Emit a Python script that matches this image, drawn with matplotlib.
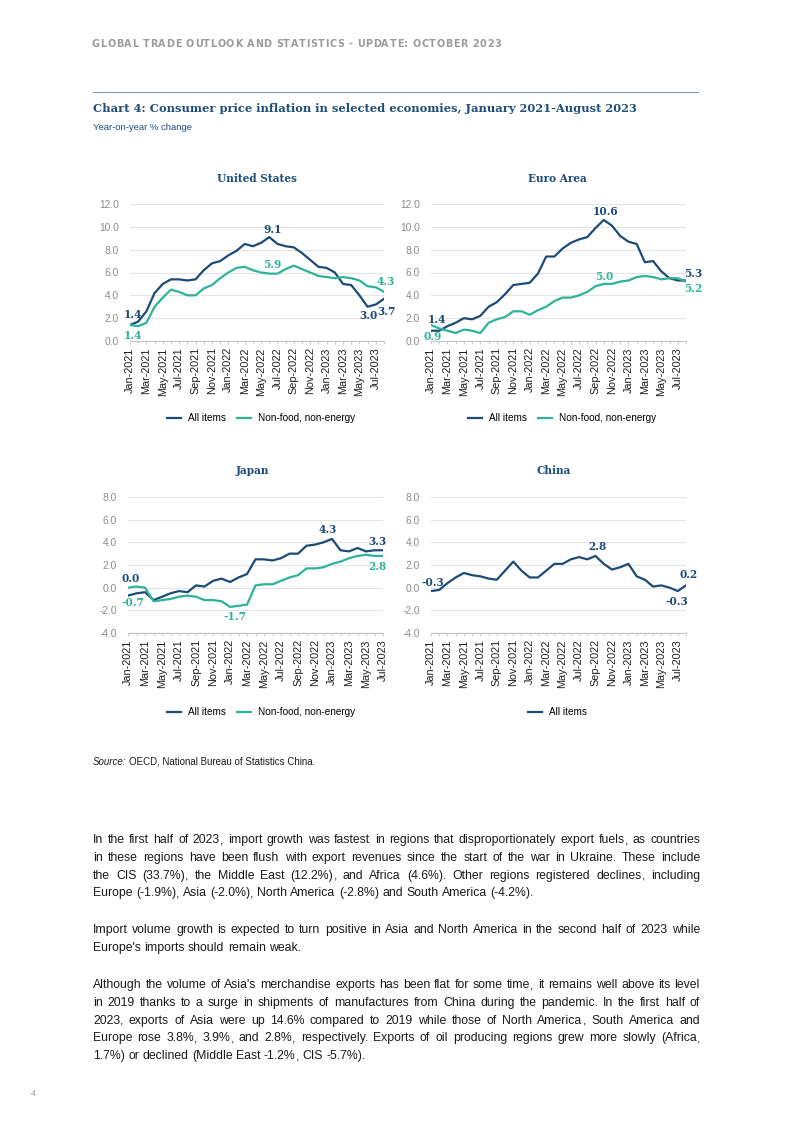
import matplotlib
matplotlib.use('Agg')
import matplotlib.pyplot as plt

W, H = 793, 1122
fig = plt.figure(figsize=(W / 100, H / 100), dpi=100)
fig.patch.set_facecolor('white')

NAVY = '#1c4b79'
TEAL = '#2db397'
TITLE_C = '#1f4e79'
GRAY = '#8c8c8c'
SANS = 'Liberation Sans'
SERIF = 'DejaVu Serif'

# ---------------- data ----------------
months = ['Jan-2021', 'Feb-2021', 'Mar-2021', 'Apr-2021', 'May-2021', 'Jun-2021', 'Jul-2021', 'Aug-2021',
          'Sep-2021', 'Oct-2021', 'Nov-2021', 'Dec-2021', 'Jan-2022', 'Feb-2022', 'Mar-2022', 'Apr-2022',
          'May-2022', 'Jun-2022', 'Jul-2022', 'Aug-2022', 'Sep-2022', 'Oct-2022', 'Nov-2022', 'Dec-2022',
          'Jan-2023', 'Feb-2023', 'Mar-2023', 'Apr-2023', 'May-2023', 'Jun-2023', 'Jul-2023', 'Aug-2023']

us_all = [1.4, 1.7, 2.6, 4.2, 5.0, 5.4, 5.4, 5.3, 5.4, 6.2, 6.8, 7.0, 7.5, 7.9, 8.5, 8.3,
          8.6, 9.1, 8.5, 8.3, 8.2, 7.7, 7.1, 6.5, 6.4, 6.0, 5.0, 4.9, 4.0, 3.0, 3.2, 3.7]
us_core = [1.4, 1.3, 1.6, 3.0, 3.8, 4.5, 4.3, 4.0, 4.0, 4.6, 4.9, 5.5, 6.0, 6.4, 6.5, 6.2,
           6.0, 5.9, 5.9, 6.3, 6.6, 6.3, 6.0, 5.7, 5.6, 5.5, 5.6, 5.5, 5.3, 4.8, 4.7, 4.3]

ea_all = [0.9, 0.9, 1.3, 1.6, 2.0, 1.9, 2.2, 3.0, 3.4, 4.1, 4.9, 5.0, 5.1, 5.9, 7.4, 7.4,
          8.1, 8.6, 8.9, 9.1, 9.9, 10.6, 10.1, 9.2, 8.7, 8.5, 6.9, 7.0, 6.1, 5.5, 5.3, 5.3]
ea_core = [1.4, 1.1, 0.9, 0.7, 1.0, 0.9, 0.7, 1.6, 1.9, 2.1, 2.6, 2.6, 2.3, 2.7, 3.0, 3.5,
           3.8, 3.8, 4.0, 4.3, 4.8, 5.0, 5.0, 5.2, 5.3, 5.6, 5.7, 5.6, 5.4, 5.5, 5.5, 5.2]

jp_all = [-0.7, -0.5, -0.4, -1.1, -0.8, -0.5, -0.3, -0.4, 0.2, 0.1, 0.6, 0.8, 0.5, 0.9, 1.2, 2.5,
          2.5, 2.4, 2.6, 3.0, 3.0, 3.7, 3.8, 4.0, 4.3, 3.3, 3.2, 3.5, 3.2, 3.3, 3.3]
jp_core = [0.0, 0.1, 0.0, -1.2, -1.1, -1.0, -0.8, -0.7, -0.8, -1.1, -1.1, -1.2, -1.7, -1.6, -1.5, 0.2,
           0.3, 0.3, 0.6, 0.9, 1.1, 1.7, 1.7, 1.8, 2.1, 2.3, 2.6, 2.8, 2.9, 2.8, 2.8]

cn_all = [-0.3, -0.2, 0.4, 0.9, 1.3, 1.1, 1.0, 0.8, 0.7, 1.5, 2.3, 1.5, 0.9, 0.9, 1.5, 2.1,
          2.1, 2.5, 2.7, 2.5, 2.8, 2.1, 1.6, 1.8, 2.1, 1.0, 0.7, 0.1, 0.2, 0.0, -0.3, 0.2]

series_names = ['All items', 'Non-food, non-energy']
y_ticks_top = [0.0, 2.0, 4.0, 6.0, 8.0, 10.0, 12.0]
y_ticks_bottom = [-4.0, -2.0, 0.0, 2.0, 4.0, 6.0, 8.0]

# value labels: (series index, month index, text, pixel offset)
us_labels = [(0, 0, '1.4', (3, 11)), (1, 0, '1.4', (3, -10)), (0, 17, '9.1', (3, 8)),
             (1, 17, '5.9', (3, 9)), (1, 31, '4.3', (2, 10)), (0, 29, '3.0', (1, -9)),
             (0, 31, '3.7', (3, -13))]
ea_labels = [(0, 0, '1.4', (6, 11)), (1, 0, '0.9', (2, -11)), (0, 21, '10.6', (2, 8)),
             (1, 21, '5.0', (1, 7)), (0, 31, '5.3', (7, 7)), (1, 31, '5.2', (7, -7))]
jp_labels = [(1, 0, '0.0', (3, 9)), (0, 0, '-0.7', (5, -7)), (1, 12, '-1.7', (5, -10)),
             (0, 24, '4.3', (-4, 9)), (0, 30, '3.3', (-6, 9)), (1, 30, '2.8', (-6, -11))]
cn_labels = [(0, 0, '-0.3', (2, 9)), (0, 20, '2.8', (2, 9)), (0, 31, '0.2', (3, 11)),
             (0, 30, '-0.3', (-1, -10))]

# label colours as in the reference (some are swapped relative to the line)
us_lab_col = [NAVY, TEAL, NAVY, TEAL, TEAL, NAVY, NAVY]
ea_lab_col = [NAVY, TEAL, NAVY, TEAL, NAVY, TEAL]
jp_lab_col = [NAVY, TEAL, TEAL, NAVY, NAVY, TEAL]
cn_lab_col = [NAVY, NAVY, NAVY, NAVY]


def fx(x):
    return x / W


def fy(y):
    return 1 - y / H


renderer = fig.canvas.get_renderer()


def text_w(s, **kw):
    t = fig.text(0, 0, s, **kw)
    w = t.get_window_extent(renderer).width
    t.remove()
    return w


def panel(box, series, colors, yticks, labels, lab_cols, title, title_xy, legend_xy, names):
    l, t, r, b = box
    ax = fig.add_axes([fx(l), fy(b), (r - l) / W, (b - t) / H])
    n = len(series[0])
    xs = list(range(n))
    for s, c, nm in zip(series, colors, names):
        ax.plot(xs, s, color=c, lw=1.6, label=nm, solid_joinstyle='round')
    ax.set_xlim(0, n - 1)
    ax.set_ylim(yticks[0], yticks[-1])
    ax.set_yticks(yticks)
    ax.set_yticklabels([f'{v:.1f}' for v in yticks], fontfamily=SANS)
    ax.set_xticks(xs)
    ax.set_xticklabels([months[i] if i % 2 == 0 else '' for i in xs], rotation=90,
                       fontfamily=SANS)
    ax.grid(axis='y', color='#e4e4e4', lw=0.8)
    ax.set_axisbelow(True)
    for sp in ['top', 'right', 'left']:
        ax.spines[sp].set_visible(False)
    ax.spines['bottom'].set_color('#c4c4c4')
    ax.spines['bottom'].set_linewidth(0.8)
    ax.tick_params(axis='x', length=2.5, width=0.6, color='#c4c4c4', pad=2,
                   labelsize=7.8, labelcolor='#1e1e1e')
    ax.tick_params(axis='y', length=0, pad=8, labelsize=7.4, labelcolor=GRAY)
    for (si, mi, txt, off), col in zip(labels, lab_cols):
        ax.annotate(txt, xy=(mi, series[si][mi]), xytext=off, textcoords='offset pixels',
                    ha='center', va='center', fontsize=7.6, fontweight='bold',
                    fontfamily=SERIF, color=col, annotation_clip=False)
    fig.text(fx(title_xy[0]), fy(title_xy[1]), title, ha='center', va='center',
             fontfamily=SERIF, fontweight='bold', fontsize=7.6, color=TITLE_C)
    ax.legend(loc='center', bbox_to_anchor=(fx(legend_xy[0]), fy(legend_xy[1])),
              bbox_transform=fig.transFigure, ncol=len(series), frameon=False,
              handlelength=1.4, handletextpad=0.7, columnspacing=1.1,
              prop={'family': SANS, 'size': 7.2})
    return ax


panel((130, 204, 384, 341), [us_all, us_core], [NAVY, TEAL], y_ticks_top, us_labels, us_lab_col,
      'United States', (257, 178), (261, 418), series_names)
panel((431, 204, 686, 341), [ea_all, ea_core], [NAVY, TEAL], y_ticks_top, ea_labels, ea_lab_col,
      'Euro Area', (557, 178), (562, 418), series_names)
panel((128, 497, 383, 633), [jp_all, jp_core], [NAVY, TEAL], y_ticks_bottom, jp_labels, jp_lab_col,
      'Japan', (252, 470), (261, 712), series_names)
panel((431, 497, 686, 633), [cn_all], [NAVY], y_ticks_bottom, cn_labels, cn_lab_col,
      'China', (554, 470), (557, 712), series_names[:1])


# ---------------- page texts ----------------
def tracked(s, x0, x1, ybase, **kw):
    sp = text_w('a a', **kw) - text_w('aa', **kw)
    widths = [text_w(ch, **kw) if ch != ' ' else sp for ch in s]
    extra = (x1 - x0 - sum(widths)) / (len(s) - 1)
    x = x0
    for ch, w in zip(s, widths):
        if ch != ' ':
            fig.text(fx(x), fy(ybase), ch, ha='left', va='baseline', **kw)
        x += w + extra


tracked('GLOBAL TRADE OUTLOOK AND STATISTICS - UPDATE: OCTOBER 2023', 92, 501, 47,
        fontfamily='DejaVu Sans', fontweight='bold', fontsize=6.9, color='#9b9b9b')

fig.add_artist(plt.Line2D([fx(93), fx(698)], [fy(92), fy(92)], color='#7f97b3', lw=0.8))

title = 'Chart 4: Consumer price inflation in selected economies, January 2021-August 2023'
tkw = dict(fontfamily=SERIF, fontweight='bold')
w10 = text_w(title, fontsize=10, **tkw)
fig.text(fx(93), fy(111.5), title, ha='left', va='baseline', fontsize=10 * 543 / w10,
         color=TITLE_C, **tkw)
fig.text(fx(93), fy(130), 'Year-on-year % change', ha='left', va='baseline', fontfamily=SANS,
         fontsize=6.8, color=TITLE_C)

src_kw = dict(fontfamily=SANS, fontsize=7.0, color='#1a1a1a')
fig.text(fx(93), fy(765), 'Source:', ha='left', va='baseline', style='italic', **src_kw)
sw = text_w('Source: ', style='italic', **src_kw)
fig.text(fx(93 + sw), fy(765), 'OECD, National Bureau of Statistics China.', ha='left',
         va='baseline', **src_kw)

BODY_FS = 8.85
body_kw = dict(fontfamily=SANS, fontsize=BODY_FS, color='#1a1a1a')
paragraphs = [
    ['In the first half of 2023, import growth was fastest in regions that disproportionately export fuels, as countries',
     'in these regions have been flush with export revenues since the start of the war in Ukraine. These include',
     'the CIS (33.7%), the Middle East (12.2%), and Africa (4.6%). Other regions registered declines, including',
     'Europe (-1.9%), Asia (-2.0%), North America (-2.8%) and South America (-4.2%).'],
    ['Import volume growth is expected to turn positive in Asia and North America in the second half of 2023 while',
     "Europe's imports should remain weak."],
    ["Although the volume of Asia's merchandise exports has been flat for some time, it remains well above its level",
     'in 2019 thanks to a surge in shipments of manufactures from China during the pandemic. In the first half of',
     '2023, exports of Asia were up 14.6% compared to 2019 while those of North America, South America and',
     'Europe rose 3.8%, 3.9%, and 2.8%, respectively. Exports of oil producing regions grew more slowly (Africa,',
     '1.7%) or declined (Middle East -1.2%, CIS -5.7%).'],
]
para_top = [839, 929, 984]
LEAD = 17.7
X0, X1 = 93, 700
space_w = text_w('a b', **body_kw) - text_w('ab', **body_kw)


def draw_word(word, x, y):
    # a trailing comma is drawn on its own so the word keeps the line's baseline
    if word.endswith(',') and len(word) > 1:
        core = word[:-1]
        fig.text(fx(x), fy(y), core, ha='left', va='baseline', **body_kw)
        fig.text(fx(x + text_w(core, **body_kw)), fy(y + 1), ',', ha='left', va='baseline',
                 **body_kw)
    else:
        fig.text(fx(x), fy(y), word, ha='left', va='baseline', **body_kw)


for lines, y0 in zip(paragraphs, para_top):
    for li, line in enumerate(lines):
        y = y0 + li * LEAD + 4.2
        words = line.split(' ')
        ws = [text_w(wd, **body_kw) for wd in words]
        last = li == len(lines) - 1
        gap = space_w if last else (X1 - X0 - sum(ws)) / (len(words) - 1)
        x = X0
        for wd, w in zip(words, ws):
            draw_word(wd, x, y)
            x += w + gap

fig.text(fx(33), fy(1093), '4', ha='center', va='center', fontfamily=SANS, fontsize=6.5,
         color='#9a9a9a')

fig.savefig('out.png', dpi=100, facecolor='white')
